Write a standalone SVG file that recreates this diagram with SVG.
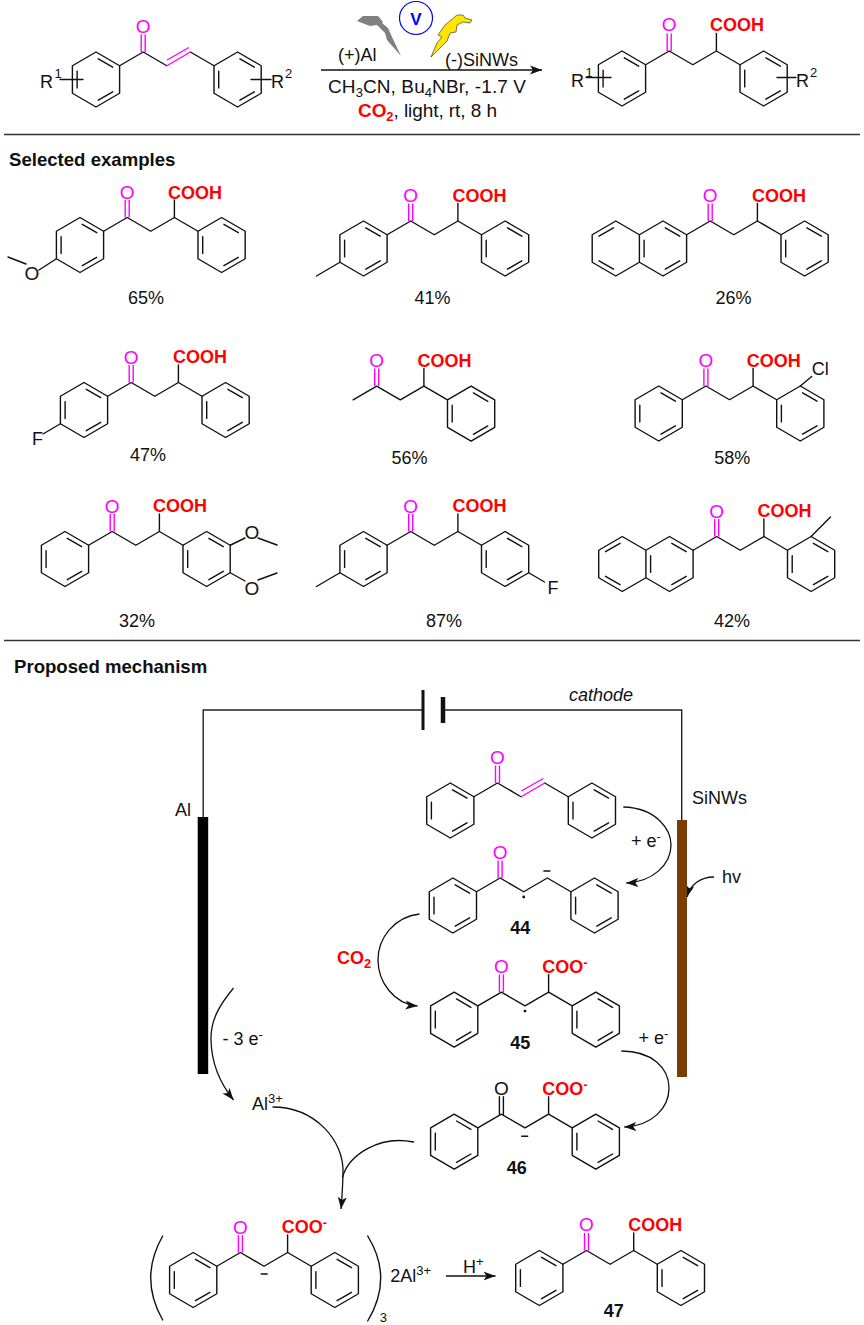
<svg xmlns="http://www.w3.org/2000/svg" width="864" height="1325" viewBox="0 0 864 1325">
<style>
text{font-family:"Liberation Sans",Arial,sans-serif;font-size:18px;fill:#111}
.h{font-weight:bold;font-size:18.6px}
.o{fill:#f0f;text-anchor:middle;font-size:19px}
.ok{text-anchor:middle;font-size:19px}
.r{fill:#f00;font-weight:bold}
.c{text-anchor:middle}
.l{font-weight:bold;text-anchor:middle}
.b{fill:none;stroke:#111;stroke-width:1.4;stroke-linecap:round;stroke-linejoin:round}
.m{fill:none;stroke:#f0f;stroke-width:1.4}
.w{fill:none;stroke:#222;stroke-width:1.4}
.a{fill:none;stroke:#111;stroke-width:1.3;marker-end:url(#ah)}
</style>
<defs>
<marker id="ah" markerUnits="userSpaceOnUse" markerWidth="13" markerHeight="10" refX="12" refY="5" orient="auto"><path d="M0,0.5L12,5L0,9.5L3,5Z" fill="#111"/></marker>
<path id="ph" class="b" d="M0,-27.5L23.6,-13.75V13.75L0,27.5L-23.6,13.75V-13.75ZM2.3,-20.7L16.7,-12.3M-18.9,-8.4V8.4M16.7,12.3L2.3,20.7"/>
<path id="nap" class="b" d="M0,-27.5L23.6,-13.75V13.75L0,27.5L-23.6,13.75V-13.75L-47.2,-27.5L-70.8,-13.75V13.75L-47.2,27.5L-23.6,13.75M-23.6,-13.75L0,-27.5M2.3,-20.7L16.7,-12.3M16.7,12.3L2.3,20.7M-18.9,-8.4V8.4M-49.5,-20.7L-64,-12.3M-64,12.3L-49.5,20.7"/>
<path id="chain" class="b" d="M23.6,-13.75L47.2,-27.5L70.8,-13.75L94.4,-27.5L118,-13.75"/>
<path id="stem" class="b" d="M94.4,-27.5V-45"/>
<path id="co" class="m" d="M45.2,-27.5V-45M49.2,-27.5V-45"/>
<path id="cok" class="b" d="M45.2,-27.5V-45M49.2,-27.5V-45"/>
<g id="ene"><path class="b" d="M23.6,-13.75L47.2,-27.5L70.8,-13.75M94.4,-27.5L118,-13.75"/><path class="m" d="M70.8,-13.75L94.4,-27.5M71,-19.5L93,-32"/></g>
</defs>

<g id="separators">
<path d="M4,134.5H860M4,640.5H860" fill="none" stroke="#333" stroke-width="1.6"/>
</g>
<g id="headings">
<text class="h" x="9" y="166">Selected examples</text>
<text class="h" x="14" y="673">Proposed mechanism</text>
</g>

<g id="connectors">
<path id="main-arrow" class="a" style="stroke-width:1.6" d="M321,70H542"/>
<path id="wire-left" class="w" d="M423,710H203.2V817"/>
<path id="wire-right" class="w" d="M443,710H681.7V820"/>
<path class="a" d="M623.3,807C657,808 671,830 671,845C671,865 652,882 626.3,883"/>
<path class="a" d="M714,877C700,877 690,885 687,897"/>
<path class="a" d="M419.5,914C394,917 378,938 378,960C378,982 394,1004 417.5,1006"/>
<path class="a" d="M621.3,1051C652,1051 669,1068 669,1088C669,1108 652,1126 624.3,1127"/>
<path class="a" d="M233.5,988C219.5,1005 210.5,1020 211,1040C211.5,1065 221.5,1085 233.5,1100"/>
<path class="a" d="M272.5,1107C314.5,1107 345,1140 343,1175C342.5,1188 342,1200 341,1209"/>
<path class="b" d="M413.5,1142C379,1135 349,1155 342.5,1177"/>
<path class="a" d="M446,1276H495.5"/>
</g>

<g id="substrate" transform="translate(96,79.5)">
<use href="#ph"/><use href="#ph" x="141.6"/><use href="#ene"/><use href="#co"/>
<path class="b" d="M-36,0H-13M155,0H175"/>
<text class="o" x="47.2" y="-47">O</text>
<text x="-56" y="8">R<tspan font-size="13" dy="-9.5" dx="1.5">1</tspan></text>
<text x="175" y="8">R<tspan font-size="13" dy="-9.5" dx="1">2</tspan></text>
</g>
<g id="reaction-conditions">
<path d="M357,21L363,16L378,16L383,22L382,23L388,28L392,37L401,56L387,40L385,33L377,25L370,26Z" fill="#808080"/>
<path d="M445,25L457,15L463,15L465,18L472,20L470,23L463,22L457,25L456,32L450,33L447,41L431,57L437,43L442,37L438,35Z" fill="#ffe600" stroke="#222" stroke-width=".6"/>
<circle cx="416" cy="18" r="16.5" fill="#fff" stroke="#00f" stroke-width="1.2"/>
<text x="416" y="24.5" class="c" style="font-weight:bold;fill:#00f;font-size:17px">V</text>
<text x="338" y="61">(+)Al</text>
<text x="445" y="65.5">(-)SiNWs</text>
<text x="328" y="93" textLength="198" style="font-size:19px">CH<tspan font-size="13" dy="4">3</tspan><tspan dy="-4">CN, Bu</tspan><tspan font-size="13" dy="4">4</tspan><tspan dy="-4">NBr, -1.7 V</tspan></text>
<text x="358" y="117" textLength="139" style="font-size:19px"><tspan class="r">CO</tspan><tspan class="r" font-size="13" dy="4">2</tspan><tspan dy="-4">, light, rt, 8 h</tspan></text>
</g>
<g id="product" transform="translate(622,78.5)">
<use href="#ph"/><use href="#ph" x="141.6"/><use href="#chain"/><use href="#stem"/><use href="#co"/>
<path class="b" d="M-36,-1H-11M155,-1H174"/>
<text class="o" x="47.2" y="-47.5">O</text>
<text class="r c" x="115" y="-48">COOH</text>
<text x="-51" y="8">R<tspan font-size="13" dy="-9.5" dx="1.5">1</tspan></text>
<text x="174" y="8">R<tspan font-size="13" dy="-9.5" dx="1">2</tspan></text>
</g>

<g id="ex1" transform="translate(80,245)">
<use href="#ph"/><use href="#ph" x="141.6"/><use href="#chain"/><use href="#stem"/><use href="#co"/>
<path class="b" d="M-23.6,13.75L-41,25M-54,19L-72,12"/>
<text class="ok" x="-48" y="35">O</text>
<text class="o" x="47.2" y="-46.5">O</text><text class="r c" x="115" y="-46.5">COOH</text>
<text class="c" x="66" y="59">65%</text>
</g>
<g id="ex2" transform="translate(363.5,248.5)">
<use href="#ph"/><use href="#ph" x="141.6"/><use href="#chain"/><use href="#stem"/><use href="#co"/>
<path class="b" d="M-23.6,13.75L-47,27.5"/>
<text class="o" x="47.2" y="-46.5">O</text><text class="r c" x="116" y="-47">COOH</text>
<text class="c" x="69" y="55.5">41%</text>
</g>
<g id="ex3" transform="translate(663,248.5)">
<use href="#nap"/><use href="#ph" x="141.6"/><use href="#chain"/><use href="#stem"/><use href="#co"/>
<text class="o" x="47.2" y="-46.5">O</text><text class="r c" x="116" y="-47">COOH</text>
<text class="c" x="70.5" y="55.5">26%</text>
</g>
<g id="ex4" transform="translate(84,410)">
<use href="#ph"/><use href="#ph" x="141.6"/><use href="#chain"/><use href="#stem"/><use href="#co"/>
<path class="b" d="M-23.6,13.75L-41,24"/>
<text x="-52" y="35">F</text>
<text class="o" x="47.2" y="-46.5">O</text><text class="r c" x="116" y="-47">COOH</text>
<text class="c" x="64" y="51">47%</text>
</g>
<g id="ex5" transform="translate(329.5,413.6)">
<use href="#ph" x="141.6"/><use href="#chain"/><use href="#stem"/><use href="#co"/>
<text class="o" x="47.2" y="-46.5">O</text><text class="r c" x="115" y="-47">COOH</text>
<text class="c" x="80" y="50.5">56%</text>
</g>
<g id="ex6" transform="translate(658.7,413.5)">
<use href="#ph"/><use href="#ph" x="141.6"/><use href="#chain"/><use href="#stem"/><use href="#co"/>
<path class="b" d="M141.6,-27.5L153,-37"/>
<text x="153" y="-38.5">Cl</text>
<text class="o" x="47.2" y="-46.5">O</text><text class="r c" x="115" y="-47">COOH</text>
<text class="c" x="73.6" y="50.5">58%</text>
</g>
<g id="ex7" transform="translate(65,559)">
<use href="#ph"/><use href="#ph" x="141.6"/><use href="#chain"/><use href="#stem"/><use href="#co"/>
<path class="b" d="M165.2,-13.75L180,-21M193,-21L212,-14M165.2,13.75L180,22M193,21L212,14"/>
<text class="ok" x="187" y="-20">O</text><text class="ok" x="187" y="35.5">O</text>
<text class="o" x="47.2" y="-46.5">O</text><text class="r c" x="115" y="-47">COOH</text>
<text class="c" x="72" y="68">32%</text>
</g>
<g id="ex8" transform="translate(363.5,559)">
<use href="#ph"/><use href="#ph" x="141.6"/><use href="#chain"/><use href="#stem"/><use href="#co"/>
<path class="b" d="M-23.6,13.75L-47,27.5M165.2,13.75L181,23"/>
<text x="184" y="35">F</text>
<text class="o" x="47.2" y="-46.5">O</text><text class="r c" x="116" y="-47">COOH</text>
<text class="c" x="80.6" y="68">87%</text>
</g>
<g id="ex9" transform="translate(669.5,564)">
<use href="#nap"/><use href="#ph" x="141.6"/><use href="#chain"/><use href="#stem"/><use href="#co"/>
<path class="b" d="M141.6,-27.5L161,-47"/>
<text class="o" x="47.2" y="-46">O</text><text class="r c" x="115" y="-47">COOH</text>
<text class="c" x="62.6" y="63">42%</text>
</g>

<g id="battery">
<path d="M423,690V730" stroke="#111" stroke-width="3" fill="none"/>
<path d="M443,697V723" stroke="#111" stroke-width="4.5" fill="none"/>
<text x="569" y="701" font-style="italic">cathode</text>
</g>
<g id="anode">
<rect x="197.7" y="817" width="10.5" height="257" fill="#000"/>
<text x="175" y="816">Al</text>
</g>
<g id="electrode-cathode">
<rect x="677" y="820" width="10" height="257" fill="#7a3e05"/>
<text x="692" y="804">SiNWs</text>
</g>
<g id="mol0" transform="translate(450.3,810.5)">
<use href="#ph"/><use href="#ph" x="141.6"/><use href="#ene"/><use href="#co"/>
<text class="o" x="47.2" y="-46.5">O</text>
</g>
<g id="mol44" transform="translate(452.9,905.5)">
<use href="#ph"/><use href="#ph" x="141.6"/><use href="#chain"/><use href="#co"/>
<circle cx="70.8" cy="-8.5" r="1.4" fill="#111"/>
<path class="b" d="M91,-34.5H97"/>
<text class="o" x="47.2" y="-46.5">O</text>
<text class="l" x="67.4" y="28.5">44</text>
</g>
<g id="mol45" transform="translate(454.2,1019.6)">
<use href="#ph"/><use href="#ph" x="141.6"/><use href="#chain"/><use href="#stem"/><use href="#co"/>
<circle cx="70.8" cy="-8.5" r="1.4" fill="#111"/>
<text class="o" x="47.2" y="-46.5">O</text>
<text class="r" x="88" y="-47">COO<tspan font-size="13" dy="-6">-</tspan></text>
<text class="l" x="66" y="29.4">45</text>
</g>
<g id="mol46" transform="translate(454.2,1141.7)">
<use href="#ph"/><use href="#ph" x="141.6"/><use href="#chain"/><use href="#stem"/><use href="#cok"/>
<path class="b" d="M67.5,-5.5H73.5"/>
<text class="ok" x="47.2" y="-46.5">O</text>
<text class="r" x="88" y="-47">COO<tspan font-size="13" dy="-6">-</tspan></text>
<text class="l" x="62.5" y="32.3">46</text>
</g>
<g id="mol-complex" transform="translate(193.2,1280)">
<use href="#ph"/><use href="#ph" x="141.6"/><use href="#chain"/><use href="#stem"/><use href="#co"/>
<path class="b" d="M68,-6H74M-30.5,-44Q-54.5,-2 -30.5,40M174.5,-44Q200.5,-2 174.5,41"/>
<text class="o" x="47.2" y="-46">O</text>
<text class="r" x="88.5" y="-47">COO<tspan font-size="13" dy="-6">-</tspan></text>
<text x="186.5" y="42" style="font-size:13px">3</text>
<text x="197" y="2">2Al<tspan font-size="13" dy="-7">3+</tspan></text>
</g>
<g id="mol47" transform="translate(539.3,1278)">
<use href="#ph"/><use href="#ph" x="141.6"/><use href="#chain"/><use href="#stem"/><use href="#co"/>
<text class="o" x="47.2" y="-47.5">O</text><text class="r c" x="116" y="-47.5">COOH</text>
<text class="l" x="74.5" y="39">47</text>
</g>
<g id="labels">
<text x="631" y="847">+ e<tspan font-size="13" dy="-6">-</tspan></text>
<text x="722" y="883">hv</text>
<text class="r" x="337" y="964">CO<tspan font-size="13" dy="4">2</tspan></text>
<text x="638.5" y="1044">+ e<tspan font-size="13" dy="-6">-</tspan></text>
<text x="222.5" y="1045">- 3 e<tspan font-size="13" dy="-6">-</tspan></text>
<text x="252" y="1110">Al<tspan font-size="13" dy="-7">3+</tspan></text>
<text x="463" y="1272.6">H<tspan font-size="13" dy="-7">+</tspan></text>
</g>
</svg>
